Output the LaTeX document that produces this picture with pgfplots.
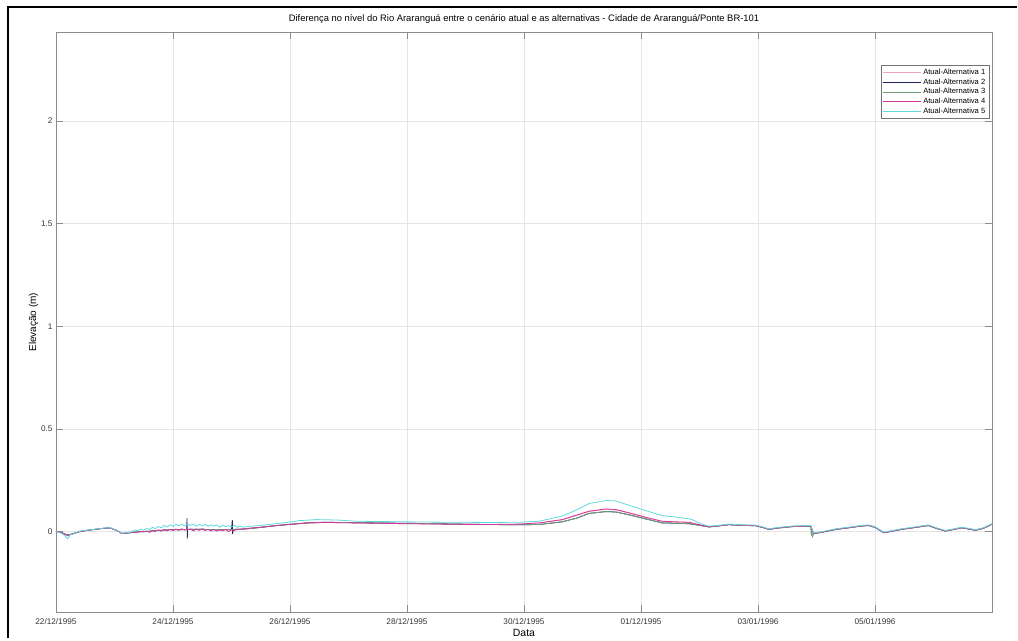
\documentclass[border=0pt]{standalone}
\usepackage{fontspec}
\setmainfont{Liberation Sans}
\usepackage{pgfplots}
\pgfplotsset{compat=1.18}

\definecolor{altA}{RGB}{242,165,180}
\definecolor{altB}{RGB}{32,36,92}
\definecolor{altC}{RGB}{110,160,120}
\definecolor{altD}{RGB}{212,52,160}
\definecolor{altE}{RGB}{95,218,218}

\begin{document}
\begin{tikzpicture}[x=1pt,y=1pt]
% page area and outer frame
\path (0,0) rectangle (1018,639);
\draw[black, line width=2pt] (8,0) -- (8,632) -- (1018,632);

\begin{axis}[
  at={(56pt,26pt)}, anchor=south west,
  scale only axis, width=937pt, height=581pt,
  xmin=0, xmax=16, ymin=-0.394, ymax=2.433,
  xtick={0,2,4,6,8,10,12,14},
  xticklabels={22/12/1995,24/12/1995,26/12/1995,28/12/1995,30/12/1995,01/12/1995,03/01/1996,05/01/1996},
  ytick={0,0.5,1,1.5,2},
  yticklabels={0,0.5,1,1.5,2},
  /pgf/number format/assume math mode=true,
  ticklabel style={font=\fontsize{8.2}{10}\selectfont, text=black!80},
  xticklabel style={anchor=base, yshift=-12pt},
  tick align=inside, major tick length=7pt,
  tick style={color=black!45, line width=0.6pt},
  axis line style={color=black!45, line width=0.8pt},
  grid=major, major grid style={color=black!10, line width=0.6pt},
  title={Diferença no nível do Rio Araranguá entre o cenário atual e as alternativas - Cidade de Araranguá/Ponte BR-101},
  title style={font=\fontsize{9.4}{11}\selectfont, at={(axis description cs:0.5,1)}, anchor=base, yshift=4pt},
  xlabel={Data}, ylabel={Elevação (m)},
  xlabel style={font=\fontsize{10.5}{12}\selectfont, at={(axis description cs:0.5,0)}, anchor=center, yshift=-21pt},
  ylabel style={font=\fontsize{10}{12}\selectfont, yshift=-4pt},
  legend cell align=left,
  legend style={at={(0.9968,0.943)}, anchor=north east, font=\fontsize{7.6}{8.5}\selectfont,
    draw=black!55, line width=0.5pt, inner sep=1.5pt, row sep=-1.2pt},
  legend image code/.code={\draw[#1, line width=0.7pt] (0pt,0pt) -- (38pt,0pt);},
  every axis plot/.append style={line width=0.8pt},
]
% Atual-Alternativa 1
\addplot[altA] coordinates {
(0,0) (0.1,-0.006) (0.2,-0.018) (0.3,-0.01) (0.41,0.0) (0.6,0.008) (0.8,0.015) (0.92,0.018) (1.04,0.005) (1.13,-0.01) (1.26,-0.006) (1.4,-0.002)
(1.55,0.002) (1.6,-0.003) (1.65,0.005) (1.7,0.0) (1.75,0.007) (1.8,0.002) (1.85,0.009) (1.9,0.004) (1.95,0.01) (2.0,0.005) (2.05,0.011) (2.1,0.006) (2.15,0.012) (2.2,0.007) (2.3,0.011) (2.35,0.004) (2.4,0.011) (2.45,0.006) (2.5,0.012) (2.55,0.005) (2.6,0.01) (2.65,0.003) (2.7,0.009) (2.75,0.002) (2.8,0.008) (2.85,0.004) (2.9,0.009) (2.95,0.0) (3.0,0.008) (3.05,0.005) (3.1,0.01) (3.2,0.011) (3.3,0.015)
(3.5,0.02) (3.7,0.026) (4.0,0.034) (4.3,0.041) (4.6,0.044) (5.1,0.042) (5.7,0.039) (6.3,0.037) (6.9,0.035) (7.4,0.034) (7.9,0.035) (8.26,0.041) (8.65,0.056) (8.9,0.078) (9.11,0.097) (9.4,0.108) (9.57,0.105) (9.8,0.089) (10.1,0.066) (10.36,0.049) (10.6,0.046) (10.82,0.044) (11.0,0.032) (11.16,0.023)
(11.3,0.027) (11.5,0.034) (11.7,0.031) (11.96,0.029) (12.1,0.019) (12.18,0.011) (12.35,0.018) (12.6,0.025) (12.87,0.027) (12.9,0.027) (12.95,-0.008) (13.09,-0.003) (13.33,0.011) (13.55,0.019) (13.75,0.027) (13.89,0.03) (14.0,0.021) (14.15,-0.005) (14.3,0.003) (14.45,0.011) (14.7,0.021) (14.91,0.03) (15.05,0.016) (15.2,0.003) (15.35,0.011) (15.48,0.019) (15.6,0.013) (15.72,0.007) (15.85,0.016) (15.99,0.035) (16,0.035)
};
\addlegendentry{Atual-Alternativa 1}
% Atual-Alternativa 2
\addplot[altB] coordinates {
(0,0) (0.1,-0.006) (0.2,-0.018) (0.3,-0.01) (0.41,0.0) (0.6,0.008) (0.8,0.015) (0.92,0.018) (1.04,0.005) (1.13,-0.01) (1.26,-0.006) (1.4,-0.002) (1.55,0.0) (1.7,0.004) (1.85,0.007) (2.0,0.009) (2.1,0.008) (2.2,0.01) (2.235,0.01) (2.24,0.065) (2.245,-0.035) (2.25,0.01) (2.4,0.011) (2.6,0.01) (2.8,0.009) (3.0,0.01) (3.015,0.055) (3.02,-0.012) (3.03,0.01) (3.15,0.011) (3.3,0.014)
(3.5,0.02) (3.7,0.027) (4.0,0.035) (4.3,0.042) (4.6,0.045) (5.1,0.043) (5.7,0.041) (6.3,0.039) (6.9,0.036) (7.4,0.034) (7.9,0.033) (8.26,0.034) (8.65,0.047) (8.9,0.065) (9.11,0.088) (9.4,0.097) (9.57,0.095) (9.8,0.081) (10.1,0.06) (10.36,0.042) (10.6,0.04) (10.82,0.038) (11.0,0.03) (11.16,0.022)
(11.3,0.026) (11.5,0.033) (11.7,0.03) (11.96,0.028) (12.1,0.018) (12.18,0.01) (12.35,0.017) (12.6,0.024) (12.87,0.026) (12.9,0.026) (12.95,-0.01) (13.09,-0.004) (13.33,0.01) (13.55,0.018) (13.75,0.026) (13.89,0.029) (14.0,0.02) (14.15,-0.006) (14.3,0.002) (14.45,0.01) (14.7,0.02) (14.91,0.029) (15.05,0.015) (15.2,0.002) (15.35,0.01) (15.48,0.018) (15.6,0.012) (15.72,0.006) (15.85,0.015) (15.99,0.034) (16,0.034)
};
\addlegendentry{Atual-Alternativa 2}
% Atual-Alternativa 3
\addplot[altC] coordinates {
(0,0) (0.1,-0.005) (0.2,-0.017) (0.3,-0.01) (0.41,0.0) (0.6,0.008) (0.8,0.015) (0.92,0.018) (1.04,0.005) (1.13,-0.01) (1.26,-0.006) (1.4,-0.002) (1.55,0.0) (1.7,0.004) (1.85,0.007) (2.0,0.009) (2.2,0.01) (2.4,0.011) (2.6,0.01) (2.8,0.009) (3.0,0.01) (3.15,0.011) (3.3,0.014)
(3.5,0.02) (3.7,0.027) (4.0,0.035) (4.3,0.042) (4.6,0.045) (5.1,0.043) (5.7,0.041) (6.3,0.039) (6.9,0.036) (7.4,0.034) (7.9,0.033) (8.26,0.034) (8.65,0.047) (8.9,0.065) (9.11,0.088) (9.4,0.097) (9.57,0.095) (9.8,0.081) (10.1,0.06) (10.36,0.042) (10.6,0.04) (10.82,0.038) (11.0,0.03) (11.16,0.022)
(11.3,0.026) (11.5,0.033) (11.7,0.03) (11.96,0.028) (12.1,0.018) (12.18,0.01) (12.35,0.017) (12.6,0.024) (12.87,0.026) (12.9,0.026) (12.91,-0.02) (12.92,0.01) (12.93,-0.025) (12.95,-0.012) (13.09,-0.004) (13.33,0.01) (13.55,0.018) (13.75,0.026) (13.89,0.029) (14.0,0.02) (14.15,-0.006) (14.3,0.002) (14.45,0.01) (14.7,0.02) (14.91,0.029) (15.05,0.015) (15.2,0.002) (15.35,0.01) (15.48,0.018) (15.6,0.012) (15.72,0.006) (15.85,0.015) (15.99,0.034) (16,0.034)
};
\addlegendentry{Atual-Alternativa 3}
% Atual-Alternativa 4
\addplot[altD] coordinates {
(0,0) (0.1,-0.006) (0.2,-0.02) (0.3,-0.01) (0.41,0.0) (0.6,0.008) (0.8,0.015) (0.92,0.018) (1.04,0.005) (1.13,-0.01) (1.26,-0.006) (1.4,-0.002)
(1.55,0.002) (1.6,-0.004) (1.65,0.006) (1.7,0.0) (1.75,0.008) (1.8,0.002) (1.85,0.01) (1.9,0.004) (1.95,0.011) (2.0,0.005) (2.05,0.012) (2.1,0.006) (2.15,0.013) (2.2,0.007) (2.3,0.012) (2.35,0.004) (2.4,0.012) (2.45,0.006) (2.5,0.013) (2.55,0.005) (2.6,0.011) (2.65,0.003) (2.7,0.01) (2.75,0.002) (2.8,0.009) (2.85,0.004) (2.9,0.01) (2.95,0.0) (3.0,0.008) (3.05,0.005) (3.1,0.011) (3.2,0.012) (3.3,0.016)
(3.5,0.021) (3.7,0.027) (4.0,0.035) (4.3,0.042) (4.6,0.044) (5.1,0.042) (5.7,0.039) (6.3,0.037) (6.9,0.035) (7.4,0.034) (7.9,0.036) (8.26,0.042) (8.65,0.058) (8.9,0.08) (9.11,0.099) (9.4,0.11) (9.57,0.107) (9.8,0.091) (10.1,0.068) (10.36,0.05) (10.6,0.047) (10.82,0.045) (11.0,0.033) (11.16,0.023)
(11.3,0.027) (11.5,0.034) (11.7,0.031) (11.96,0.029) (12.1,0.019) (12.18,0.011) (12.35,0.018) (12.6,0.025) (12.87,0.027) (12.9,0.027) (12.95,-0.009) (13.09,-0.003) (13.33,0.011) (13.55,0.019) (13.75,0.027) (13.89,0.03) (14.0,0.021) (14.15,-0.005) (14.3,0.003) (14.45,0.011) (14.7,0.021) (14.91,0.03) (15.05,0.016) (15.2,0.003) (15.35,0.011) (15.48,0.019) (15.6,0.013) (15.72,0.007) (15.85,0.016) (15.99,0.035) (16,0.035)
};
\addlegendentry{Atual-Alternativa 4}
% Atual-Alternativa 5
\addplot[altE] coordinates {
(0,0) (0.05,-0.004) (0.1,-0.01) (0.15,-0.02) (0.2,-0.035) (0.25,-0.015) (0.3,-0.012) (0.35,-0.005) (0.41,0.002) (0.6,0.009) (0.8,0.016) (0.92,0.019) (1.04,0.006) (1.13,-0.008) (1.26,-0.004)
(1.3,0.0) (1.35,0.008) (1.4,0.003) (1.45,0.012) (1.5,0.006) (1.55,0.015) (1.6,0.01) (1.65,0.02) (1.7,0.014) (1.75,0.024) (1.8,0.018) (1.85,0.03) (1.9,0.022) (1.95,0.032) (2.0,0.025) (2.05,0.035) (2.1,0.027) (2.15,0.036) (2.2,0.028) (2.25,0.038) (2.3,0.03) (2.35,0.036) (2.4,0.026) (2.45,0.034) (2.5,0.028) (2.55,0.035) (2.6,0.025) (2.65,0.033) (2.7,0.027) (2.75,0.032) (2.8,0.02) (2.85,0.03) (2.9,0.024) (2.95,0.028) (3.0,0.022) (3.05,0.03) (3.1,0.02) (3.15,0.027) (3.2,0.021) (3.3,0.025)
(3.5,0.03) (3.7,0.036) (4.0,0.046) (4.16,0.053) (4.45,0.058) (4.8,0.056) (5.14,0.05) (5.7,0.048) (6.3,0.046) (6.9,0.045) (7.4,0.044) (7.9,0.045) (8.26,0.05) (8.65,0.075) (8.9,0.105) (9.11,0.136) (9.4,0.151) (9.57,0.149) (9.8,0.127) (10.1,0.1) (10.36,0.078) (10.6,0.07) (10.82,0.062) (10.9,0.055) (11.0,0.04) (11.16,0.026)
(11.3,0.029) (11.5,0.036) (11.7,0.033) (11.96,0.031) (12.1,0.021) (12.18,0.013) (12.35,0.02) (12.6,0.027) (12.87,0.029) (12.9,0.029) (12.95,-0.007) (13.09,-0.001) (13.33,0.013) (13.55,0.021) (13.75,0.029) (13.89,0.032) (14.0,0.023) (14.15,-0.003) (14.3,0.005) (14.45,0.013) (14.7,0.023) (14.91,0.032) (15.05,0.018) (15.2,0.005) (15.35,0.013) (15.48,0.021) (15.6,0.015) (15.72,0.009) (15.85,0.018) (15.99,0.037) (16,0.037)
};
\addlegendentry{Atual-Alternativa 5}
\end{axis}
\end{tikzpicture}
\end{document}
